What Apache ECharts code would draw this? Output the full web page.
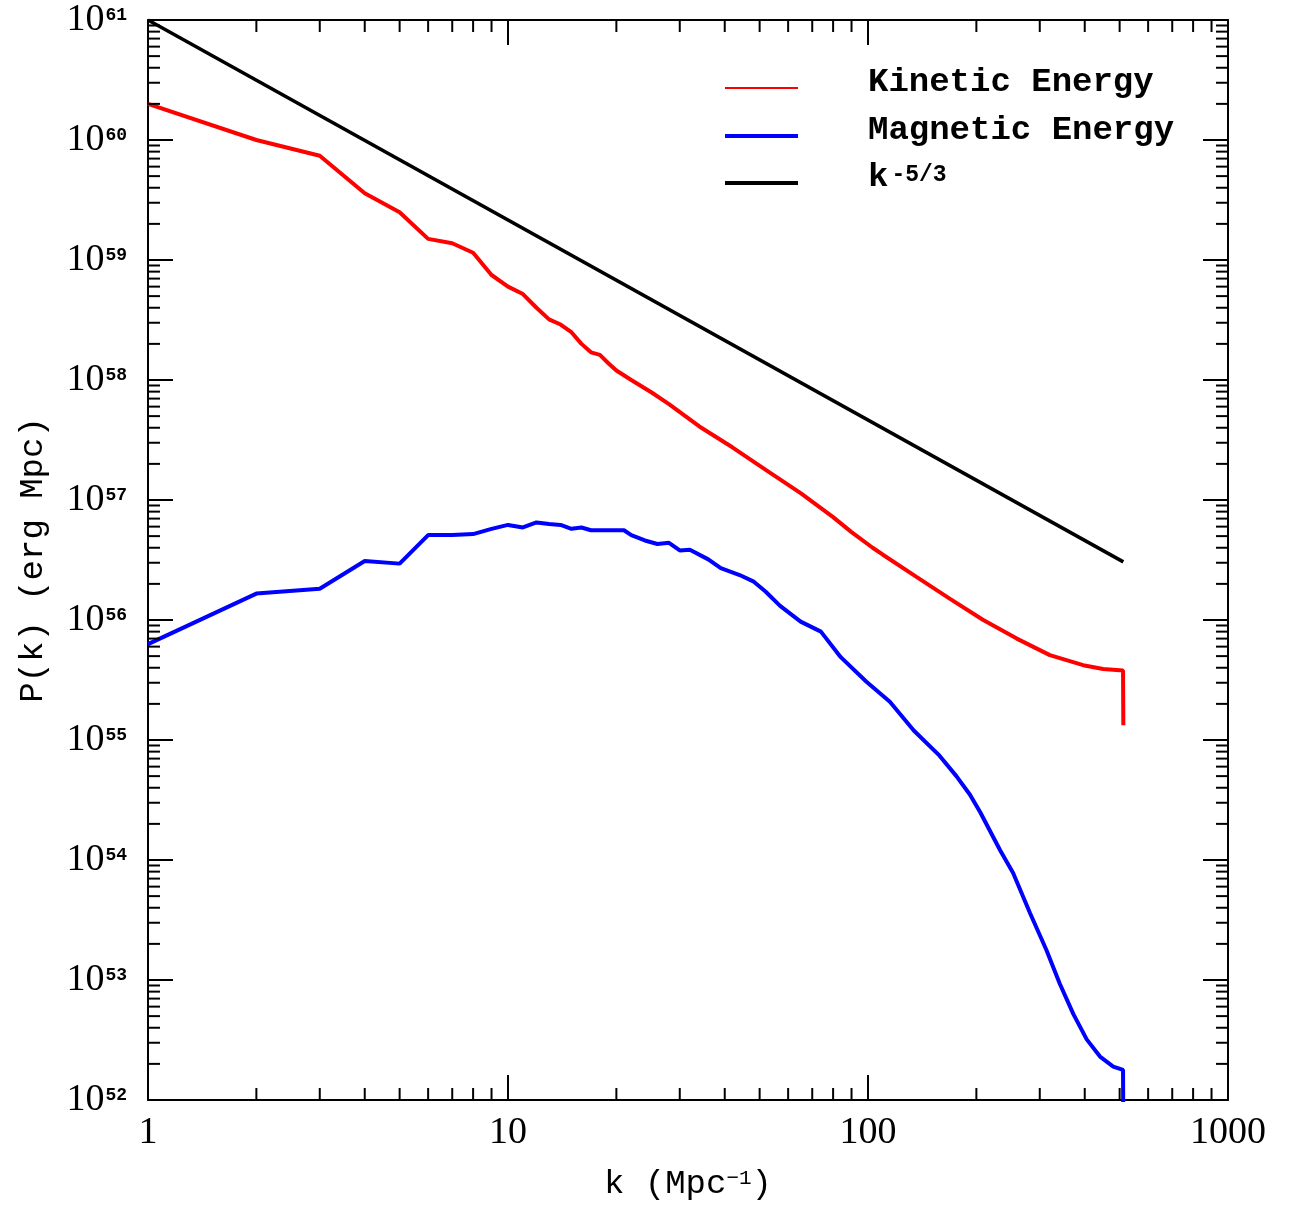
<!DOCTYPE html>
<html>
<head>
<meta charset="utf-8">
<script src="https://cdn.jsdelivr.net/npm/echarts@6/dist/echarts.min.js"></script>
<style>
  html, body { margin: 0; padding: 0; background: #fff; }
  #chart { width: 1295px; height: 1209px; }
</style>
</head>
<body>
<div id="chart"></div>
<script>
// Power spectra P(k) in erg Mpc against wavenumber k in Mpc^-1
const kineticK = [1, 2, 3, 4, 5, 6, 7, 8, 9, 10, 11, 12, 13, 14, 15, 16, 17, 18, 19, 20,
  22, 25, 28, 34, 42, 52, 65, 80, 90, 103, 110, 136, 169, 209, 259, 320, 396, 450, 511, 512];
const kineticP = [2.0e60, 1.0e60, 7.4e59, 3.6e59, 2.5e59, 1.5e59, 1.38e59, 1.15e59, 7.5e58, 6.0e58,
  5.2e58, 4.0e58, 3.2e58, 2.9e58, 2.5e58, 2.0e58, 1.7e58, 1.62e58, 1.38e58, 1.2e58,
  1.0e58, 7.9e57, 6.3e57, 4.1e57, 2.75e57, 1.78e57, 1.14e57, 7.2e56, 5.4e56, 4.0e56,
  3.5e56, 2.3e56, 1.5e56, 1.0e56, 7.0e55, 5.1e55, 4.2e55, 3.9e55, 3.8e55, 1.33e55];

const magneticK = [1, 2, 3, 4, 5, 6, 7, 8, 9, 10, 11, 12, 13, 14, 15, 16, 17, 18, 19, 20, 21, 22,
  24, 26, 28, 30, 32, 36, 39, 44, 48, 52, 57, 65, 74, 84, 99, 115, 134, 158, 176, 192, 205,
  233, 253, 282, 313, 341, 372, 405, 441, 480, 511, 512];
const magneticP = [6.3e55, 1.66e56, 1.82e56, 3.1e56, 2.95e56, 5.1e56, 5.1e56, 5.2e56, 5.75e56, 6.2e56,
  5.9e56, 6.5e56, 6.3e56, 6.2e56, 5.75e56, 5.9e56, 5.6e56, 5.6e56, 5.6e56, 5.6e56, 5.6e56, 5.1e56,
  4.6e56, 4.3e56, 4.4e56, 3.8e56, 3.85e56, 3.2e56, 2.7e56, 2.37e56, 2.1e56, 1.72e56, 1.31e56,
  9.7e55, 8.0e55, 4.9e55, 3.06e55, 2.08e55, 1.2e55, 7.4e54, 5.0e54, 3.5e54, 2.5e54,
  1.2e54, 7.8e53, 3.6e53, 1.78e53, 9.3e52, 5.2e52, 3.2e52, 2.3e52, 1.9e52, 1.78e52, 5e51];

// Kolmogorov reference slope, end points
const slopeK = [1, 512];
const slopeP = [1e61, 3.05e56];

// Axis ranges and tick labels
const X_MIN = 1, X_MAX = 1000;
const Y_MIN = 1e52, Y_MAX = 1e61;
const xTickLabels = ['1', '10', '100', '1000'];
const yTickExponents = [52, 53, 54, 55, 56, 57, 58, 59, 60, 61];

const MAJOR_LEN = 25;
const MINOR_LEN = 12;

// 2..9 x 10^e minor tick positions inside each decade
function minorTicks(eLo, eHi) {
  const out = [];
  for (let e = eLo; e < eHi; e++) {
    for (let m = 2; m <= 9; m++) out.push(m * Math.pow(10, e));
  }
  return out;
}
const minorX = minorTicks(0, 3);
const minorY = minorTicks(52, 61);

const pairs = (ks, ps) => ks.map((k, i) => [k, ps[i]]);

const frameLine = { show: true, onZero: false, lineStyle: { color: '#000', width: 2 } };
const majorTick = { show: true, inside: true, length: MAJOR_LEN, lineStyle: { color: '#000', width: 2 } };

function tickLine(x1, y1, x2, y2) {
  return { type: 'line', shape: { x1, y1, x2, y2 }, style: { stroke: '#000', lineWidth: 2 } };
}

const chart = echarts.init(document.getElementById('chart'), null, { renderer: 'canvas' });

const legendFont = { fontFamily: 'Liberation Mono', fontWeight: 'bold', color: '#000' };
const legendBase = {
  orient: 'vertical', left: 725, padding: 0, icon: 'rect', itemWidth: 73,
  selectedMode: false,
  textStyle: Object.assign({ fontSize: 34 }, legendFont, {
    rich: {
      a: Object.assign({ fontSize: 34, lineHeight: 40, padding: [0, 0, 12, 65] }, legendFont),
      k: Object.assign({ fontSize: 34, lineHeight: 40, padding: [0, 0, 12, 65] }, legendFont),
      s: Object.assign({ fontSize: 23, lineHeight: 40, verticalAlign: 'top', padding: [1, 0, 12, 3] }, legendFont)
    }
  })
};

chart.setOption({
  animation: false,
  backgroundColor: '#fff',
  grid: { left: 148, right: 67, top: 20, bottom: 109, containLabel: false },
  legend: [
    Object.assign({}, legendBase, { top: 65, itemHeight: 2, data: ['Kinetic Energy'], formatter: n => '{a|' + n + '}' }),
    Object.assign({}, legendBase, { top: 113, itemHeight: 4, data: ['Magnetic Energy'], formatter: n => '{a|' + n + '}' }),
    Object.assign({}, legendBase, { top: 160, itemHeight: 4, data: ['k^-5/3'], formatter: () => '{k|k}{s|-5/3}' })
  ],
  xAxis: [
    {
      type: 'log', logBase: 10, min: X_MIN, max: X_MAX, splitNumber: 3, position: 'bottom',
      axisLine: frameLine, axisTick: majorTick, splitLine: { show: false }, minorTick: { show: false },
      axisLabel: {
        margin: 14, color: '#000', fontFamily: 'Liberation Serif', fontSize: 38,
        formatter: v => xTickLabels[Math.round(Math.log10(v))]
      },
      name: '{a|k (Mpc}{s|\u22121}{a|)}',
      nameLocation: 'middle', nameGap: 64,
      nameTextStyle: {
        rich: {
          a: { fontFamily: 'Liberation Mono', fontSize: 34, lineHeight: 40, color: '#000' },
          s: { fontFamily: 'Liberation Mono', fontSize: 21, lineHeight: 40, color: '#000', verticalAlign: 'top', padding: [4, 0, 0, 0] }
        }
      }
    },
    {
      type: 'log', logBase: 10, min: X_MIN, max: X_MAX, splitNumber: 3, position: 'top',
      axisLine: frameLine, axisTick: majorTick, splitLine: { show: false }, minorTick: { show: false },
      axisLabel: { show: false }
    }
  ],
  yAxis: [
    {
      type: 'log', logBase: 10, min: Y_MIN, max: Y_MAX, splitNumber: 9, position: 'left',
      axisLine: frameLine, axisTick: majorTick, splitLine: { show: false }, minorTick: { show: false },
      axisLabel: {
        margin: 21, color: '#000',
        formatter: v => {
          const e = Math.round(Math.log10(v));
          return yTickExponents.indexOf(e) >= 0 ? '{b|10}{s|' + e + '}' : '';
        },
        rich: {
          b: { fontFamily: 'Liberation Serif', fontSize: 38, lineHeight: 38, color: '#000' },
          s: { fontFamily: 'Liberation Mono', fontWeight: 'bold', fontSize: 18, lineHeight: 20, color: '#000', verticalAlign: 'top', padding: [5, 0, 0, 1] }
        }
      },
      name: 'P(k) (erg Mpc)',
      nameLocation: 'middle', nameGap: 98,
      nameTextStyle: { fontFamily: 'Liberation Mono', fontSize: 34, color: '#000' }
    },
    {
      type: 'log', logBase: 10, min: Y_MIN, max: Y_MAX, splitNumber: 9, position: 'right',
      axisLine: frameLine, axisTick: majorTick, splitLine: { show: false }, minorTick: { show: false },
      axisLabel: { show: false }
    }
  ],
  series: [
    {
      name: 'k^-5/3', type: 'line', data: pairs(slopeK, slopeP),
      showSymbol: false, symbol: 'none', color: '#000',
      lineStyle: { color: '#000', width: 3.5 }, z: 3
    },
    {
      name: 'Kinetic Energy', type: 'line', data: pairs(kineticK, kineticP),
      showSymbol: false, symbol: 'none', color: '#ff0000',
      lineStyle: { color: '#ff0000', width: 4 }, z: 3
    },
    {
      name: 'Magnetic Energy', type: 'line', data: pairs(magneticK, magneticP),
      showSymbol: false, symbol: 'none', color: '#0000ff',
      lineStyle: { color: '#0000ff', width: 4 }, z: 3
    },
    {
      // minor ticks on the bottom and top frame
      type: 'custom', silent: true, clip: false, z: 4,
      data: minorX.map(v => [v, Y_MIN]),
      renderItem: (params, api) => {
        const v = api.value(0);
        const b = api.coord([v, Y_MIN]);
        const t = api.coord([v, Y_MAX]);
        return { type: 'group', children: [
          tickLine(b[0], b[1], b[0], b[1] - MINOR_LEN),
          tickLine(t[0], t[1], t[0], t[1] + MINOR_LEN)
        ] };
      }
    },
    {
      // minor ticks on the left and right frame
      type: 'custom', silent: true, clip: false, z: 4,
      data: minorY.map(v => [X_MIN, v]),
      renderItem: (params, api) => {
        const v = api.value(1);
        const l = api.coord([X_MIN, v]);
        const r = api.coord([X_MAX, v]);
        return { type: 'group', children: [
          tickLine(l[0], l[1], l[0] + MINOR_LEN, l[1]),
          tickLine(r[0], r[1], r[0] - MINOR_LEN, r[1])
        ] };
      }
    }
  ]
});
</script>
</body>
</html>
